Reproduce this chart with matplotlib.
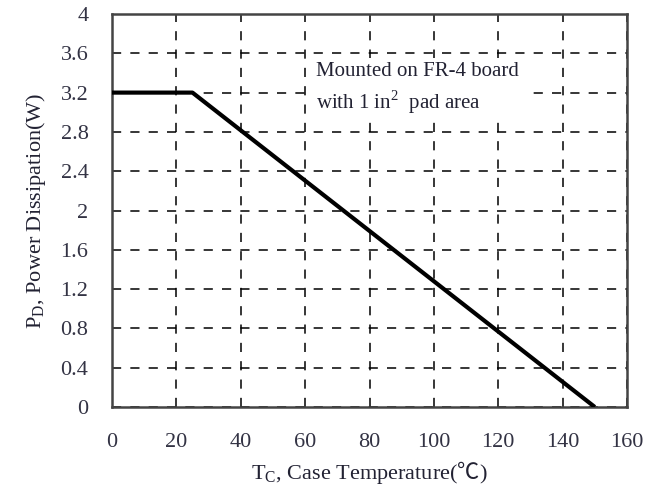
import matplotlib.pyplot as plt

# Derating curve: case temperature (°C) vs max power dissipation (W)
temp_c = [0, 25, 150]
power_w = [3.2, 3.2, 0]

x_ticks = [0, 20, 40, 60, 80, 100, 120, 140, 160]
y_ticks = [0, 0.4, 0.8, 1.2, 1.6, 2, 2.4, 2.8, 3.2, 3.6, 4]
y_labels = ["0", "0.4", "0.8", "1.2", "1.6", "2", "2.4", "2.8", "3.2", "3.6", "4"]

plt.rcParams["font.family"] = ["Liberation Serif", "Noto Sans CJK SC", "DejaVu Sans"]
plt.rcParams["mathtext.fontset"] = "custom"
plt.rcParams["mathtext.rm"] = "Liberation Serif"
plt.rcParams["mathtext.sf"] = "Noto Sans CJK SC"

fig = plt.figure(figsize=(6.56, 4.93), dpi=100)
ax = fig.add_axes([112 / 656, 86 / 493, 515 / 656, 393 / 493])

ax.plot(temp_c, power_w, color="black", linewidth=3, solid_capstyle="butt", zorder=3)

ax.set_xlim(0, 160)
ax.set_ylim(0, 4)
ax.set_xticks(x_ticks)
ax.set_yticks(y_ticks)
ax.set_yticklabels(y_labels)
ax.tick_params(length=0, labelsize=16, pad=19, colors="#333344")
ax.tick_params(axis="y", pad=17)

ax.grid(True, color="black", linestyle=(0, (6, 6)), linewidth=1.1)
for s in ax.spines.values():
    s.set_linewidth(1.8)
    s.set_color("#444444")

ax.set_xlabel(r"T$_\mathregular{C}$, Case Temperature($\mathsf{℃}$)", fontsize=16, labelpad=5, color="#222233")
ax.set_ylabel(r"P$_\mathregular{D}$, Power Dissipation(W)", fontsize=16, labelpad=9, color="#222233")

ax.text(63.4, 3.24, "Mounted on FR-4 board\nwith 1 in$^\\mathregular{2}$  pad area",
        fontsize=15, ha="left", va="center", color="#222233", linespacing=1.35,
        bbox=dict(facecolor="white", edgecolor="none", pad=4), zorder=4)

fig.savefig("out.png", dpi=100)
